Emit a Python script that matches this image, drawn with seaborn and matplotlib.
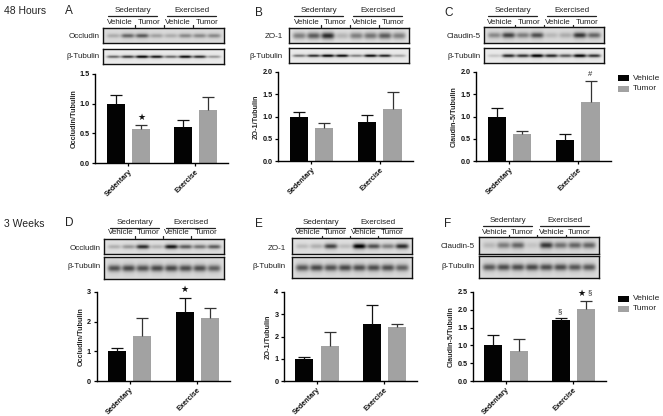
import numpy as np
import pandas as pd
import matplotlib
matplotlib.use("Agg")
import matplotlib.pyplot as plt
from matplotlib.lines import Line2D
from matplotlib.patches import Rectangle
import seaborn as sns

# ---- data ----
groups = ["Sedentary", "Exercise"]
treatments = ["Vehicle", "Tumor"]

a_vals = [1.00, 0.57, 0.61, 0.90]
a_tops = [1.15, 0.64, 0.73, 1.11]
b_vals = [1.00, 0.74, 0.87, 1.16]
b_tops = [1.09, 0.85, 1.04, 1.55]
c_vals = [1.00, 0.60, 0.47, 1.32]
c_tops = [1.18, 0.68, 0.60, 1.80]
d_vals = [1.00, 1.53, 2.33, 2.14]
d_tops = [1.12, 2.12, 2.80, 2.46]
e_vals = [1.00, 1.57, 2.55, 2.42]
e_tops = [1.10, 2.21, 3.40, 2.56]
f_vals = [1.00, 0.84, 1.72, 2.03]
f_tops = [1.28, 1.17, 1.76, 2.24]

# western-blot band darkness per lane
a_prot = [.20, .50, .55, .25, .20, .35, .35, .35]
a_tub = [.55, .75, 1.0, .90, .55, .95, .80, .35]
b_prot = [.40, .55, .75, .18, .40, .45, .55, .40]
b_tub = [.50, .80, 1.0, .95, .45, .95, .85, .30]
c_prot = [.35, .65, .40, .60, .15, .20, .70, .50]
c_tub = [.15, .80, .75, 1.0, .80, .60, .95, .75]
d_prot = [.20, .30, .75, .20, .85, .55, .45, .55]
d_tub = [.58, .62, .58, .62, .62, .60, .60, .52]
e_prot = [.15, .20, .65, .15, .95, .60, .40, .75]
e_tub = [.56, .62, .58, .62, .60, .60, .60, .52]
f_prot = [.15, .40, .50, .10, .70, .45, .50, .50]
f_tub = [.55, .60, .60, .62, .60, .60, .56, .55]

W, H = 663, 416
sns.set_theme(style="ticks")
plt.rcParams["font.family"] = ["Liberation Sans", "DejaVu Sans"]
fig = plt.figure(figsize=(W / 100, H / 100), dpi=100, facecolor="white")


def box(x0, y0, x1, y1):
    """pixel box (y down) -> figure rectangle"""
    return [x0 / W, 1 - y1 / H, (x1 - x0) / W, (y1 - y0) / H]


def label(x, y, s, size=5.8, ha="center", weight="normal", color="#222222", **kw):
    fig.text(x / W, 1 - y / H, s, fontsize=size, ha=ha, va="center",
             fontweight=weight, color=color, **kw)


def bars(rect, vals, tops, ymax, ticks, fmt, ylabel):
    x0, y0, x1, y1 = rect
    ax = fig.add_axes(box(x0, y0, x1, y1))
    ax.patch.set_alpha(0)
    df = pd.DataFrame({
        "group": np.repeat(groups, 2),
        "treatment": treatments * 2,
        "value": vals,
    })
    sns.barplot(data=df, x="group", y="value", hue="treatment",
                order=groups, hue_order=treatments,
                palette={"Vehicle": "#030303", "Tumor": "#a2a2a2"},
                width=0.746, gap=0.28, errorbar=None, saturation=1,
                edgecolor="none", linewidth=0,
                legend=False, ax=ax)
    centers = []
    for cont in ax.containers:
        centers.append([p.get_x() + p.get_width() / 2 for p in cont])
    # order as Vehicle-S, Tumor-S, Vehicle-E, Tumor-E
    xs = [centers[0][0], centers[1][0], centers[0][1], centers[1][1]]
    for x, v, t, c in zip(xs, vals, tops, ["#111111", "#333333"] * 2):
        ax.plot([x, x], [v, t], color=c, lw=0.9, solid_capstyle="butt")
        ax.plot([x], [t], marker="_", ms=8, mew=0.9, color=c, ls="none", clip_on=False)
    ax.set_xlim(-0.49, 1.485)
    ax.set_ylim(0, ymax)
    ax.set_yticks(ticks)
    ax.set_yticklabels([fmt.format(t) for t in ticks], fontsize=5.2, fontweight="bold")
    ax.set_xticks([0, 1])
    ax.set_xticklabels(["Sedentary", "Exercise"], fontsize=5.2, fontweight="bold",
                       rotation=45, ha="right", rotation_mode="anchor")
    ax.set_xlabel("")
    ax.set_ylabel(ylabel, fontsize=5.2, fontweight="bold", labelpad=1.5)
    ax.tick_params(axis="both", length=2.5, width=0.9, pad=1.5, color="black", labelcolor="#111111")
    for s in ("left", "bottom"):
        ax.spines[s].set_linewidth(1.0)
        ax.spines[s].set_color("black")
    sns.despine(ax=ax)
    return ax


def blot(rect, lanes, sigma, bg):
    x0, y0, x1, y1 = rect
    ax = fig.add_axes(box(x0, y0, x1, y1))
    w, h = int(x1 - x0) * 2, int(y1 - y0) * 2
    yy, xx = np.mgrid[0:h, 0:w]
    xx = xx / 2.0
    yy = yy / 2.0
    img = np.full((h, w), bg, dtype=float)
    yc = (y1 - y0) / 2
    step = (x1 - x0 - 6) / 8
    for i, d in enumerate(lanes):
        xc = 3 + step * (i + 0.5)
        envx = np.exp(-((xx - xc) / (step * 0.46)) ** 4)
        envy = np.exp(-((yy - yc) / sigma) ** 2)
        img -= d * bg * 0.95 * envx * envy
        envy2 = np.exp(-((yy - yc) / (sigma * 2.4)) ** 2)
        img -= d * 0.12 * envx * envy2
    ax.imshow(np.clip(img, 0, 1), cmap="gray", vmin=0, vmax=1, aspect="auto",
              interpolation="bilinear")
    ax.set_xticks([])
    ax.set_yticks([])
    for s in ax.spines.values():
        s.set_linewidth(1.0)
        s.set_color("#111111")


def header(x0, yline, ytext, ysub, subs, ex_start):
    line_kw = dict(color="#222222", lw=0.9, transform=fig.transFigure)
    for a, b, name in ((x0, x0 + 49, "Sedentary"), (ex_start, ex_start + 49, "Exercised")):
        fig.add_artist(Line2D([a / W, b / W], [1 - yline / H] * 2, **line_kw))
        label((a + b) / 2, ytext, name)
    for x, name in zip(subs, ["Vehicle", "Tumor", "Vehicle", "Tumor"]):
        label(x, ysub, name)
    for x in ((subs[0] + subs[1]) / 2, (subs[1] + subs[2]) / 2, (subs[2] + subs[3]) / 2):
        fig.add_artist(Line2D([x / W, x / W], [1 - (ysub + 2.5) / H, 1 - (ysub + 4.5) / H], **line_kw))


# ---- panel A ----
bars((95.5, 74, 228, 163), a_vals, a_tops, 1.5, [0, .5, 1, 1.5], "{:.1f}", "Occludin/Tubulin")
blot((103, 28, 224, 43), a_prot, 2.0, .86)
blot((103, 49, 224, 64), a_tub, 1.2, .92)
header(108, 16, 11, 22, [120, 149, 178, 207], 167)
label(100, 36, "Occludin", ha="right")
label(100, 56, "β-Tubulin", ha="right")

# ---- panel B ----
bars((278, 72, 413, 161), b_vals, b_tops, 2.0, [0, .5, 1, 1.5, 2], "{:.1f}", "ZO-1/Tubulin")
blot((289, 28, 409, 43), b_prot, 3.0, .88)
blot((289, 48, 409, 63), b_tub, 1.2, .92)
header(294, 16, 11, 22, [307, 335, 365, 393], 353)
label(283, 36, "ZO-1", ha="right")
label(283, 56, "β-Tubulin", ha="right")

# ---- panel C ----
bars((476, 72, 611, 161), c_vals, c_tops, 2.0, [0, .5, 1, 1.5, 2], "{:.1f}", "Claudin-5/Tubulin")
blot((484, 27, 604, 43), c_prot, 2.6, .86)
blot((484, 48, 604, 63), c_tub, 1.5, .92)
header(488, 16, 10.5, 22, [500, 529, 558, 587], 547)
label(481, 36, "Claudin-5", ha="right")
label(481, 56, "β-Tubulin", ha="right")

# ---- panel D ----
bars((96.5, 292, 230, 381), d_vals, d_tops, 3, [0, 1, 2, 3], "{:d}", "Occludin/Tubulin")
blot((104, 239, 224, 254), d_prot, 2.0, .88)
blot((104, 257, 224, 279), d_tub, 3.2, .86)
header(110, 228, 222, 233, [121, 148, 177, 206], 166)
label(101, 248, "Occludin", ha="right")
label(101, 267, "β-Tubulin", ha="right")

# ---- panel E ----
bars((284, 292, 417, 381), e_vals, e_tops, 4, [0, 1, 2, 3, 4], "{:d}", "ZO-1/Tubulin")
blot((292, 238, 412, 254), e_prot, 2.4, .88)
blot((292, 257, 412, 278), e_tub, 3.2, .86)
header(296, 228, 222, 233, [308, 335, 364, 392], 353)
label(286, 248, "ZO-1", ha="right")
label(286, 267, "β-Tubulin", ha="right")

# ---- panel F ----
bars((473, 292, 606, 381), f_vals, f_tops, 2.5, [0, .5, 1, 1.5, 2, 2.5], "{:.1f}", "Claudin-5/Tubulin")
blot((479, 237, 599, 254), f_prot, 2.8, .86)
blot((479, 256, 599, 278), f_tub, 3.2, .86)
header(483, 226, 221, 232, [495, 522, 552, 579], 540)
label(475, 247, "Claudin-5", ha="right")
label(475, 266, "β-Tubulin", ha="right")

# ---- row and panel labels ----
label(4, 10.5, "48 Hours", size=7.5, ha="left")
label(4, 224, "3 Weeks", size=7.5, ha="left")
for x, y, s in ((65, 10.5, "A"), (255, 13, "B"), (444, 12.5, "C"),
                (65, 223, "D"), (255, 224, "E"), (444, 224, "F")):
    label(x, y, s, size=8.5, ha="left")

# ---- significance marks ----
star = dict(size=6.5, color="#111111", family=["DejaVu Sans"])
label(141.5, 117, "★", **star)
label(184, 289.5, "★", **star)
label(581, 293, "★", **star)
label(590, 74, "#", size=5.5)
label(560, 312, "§", size=5.5)
label(590, 293, "§", size=5.5)

# ---- legends ----
for y0, col, name in ((75, "#030303", "Vehicle"), (86, "#a2a2a2", "Tumor"),
                      (296, "#030303", "Vehicle"), (306, "#a2a2a2", "Tumor")):
    fig.add_artist(Rectangle((618 / W, 1 - (y0 + 6) / H), 11 / W, 6 / H,
                             transform=fig.transFigure, facecolor=col, edgecolor="none"))
    label(633, y0 + 3, name, size=6, ha="left")

fig.savefig("out.png", dpi=100, facecolor="white")
